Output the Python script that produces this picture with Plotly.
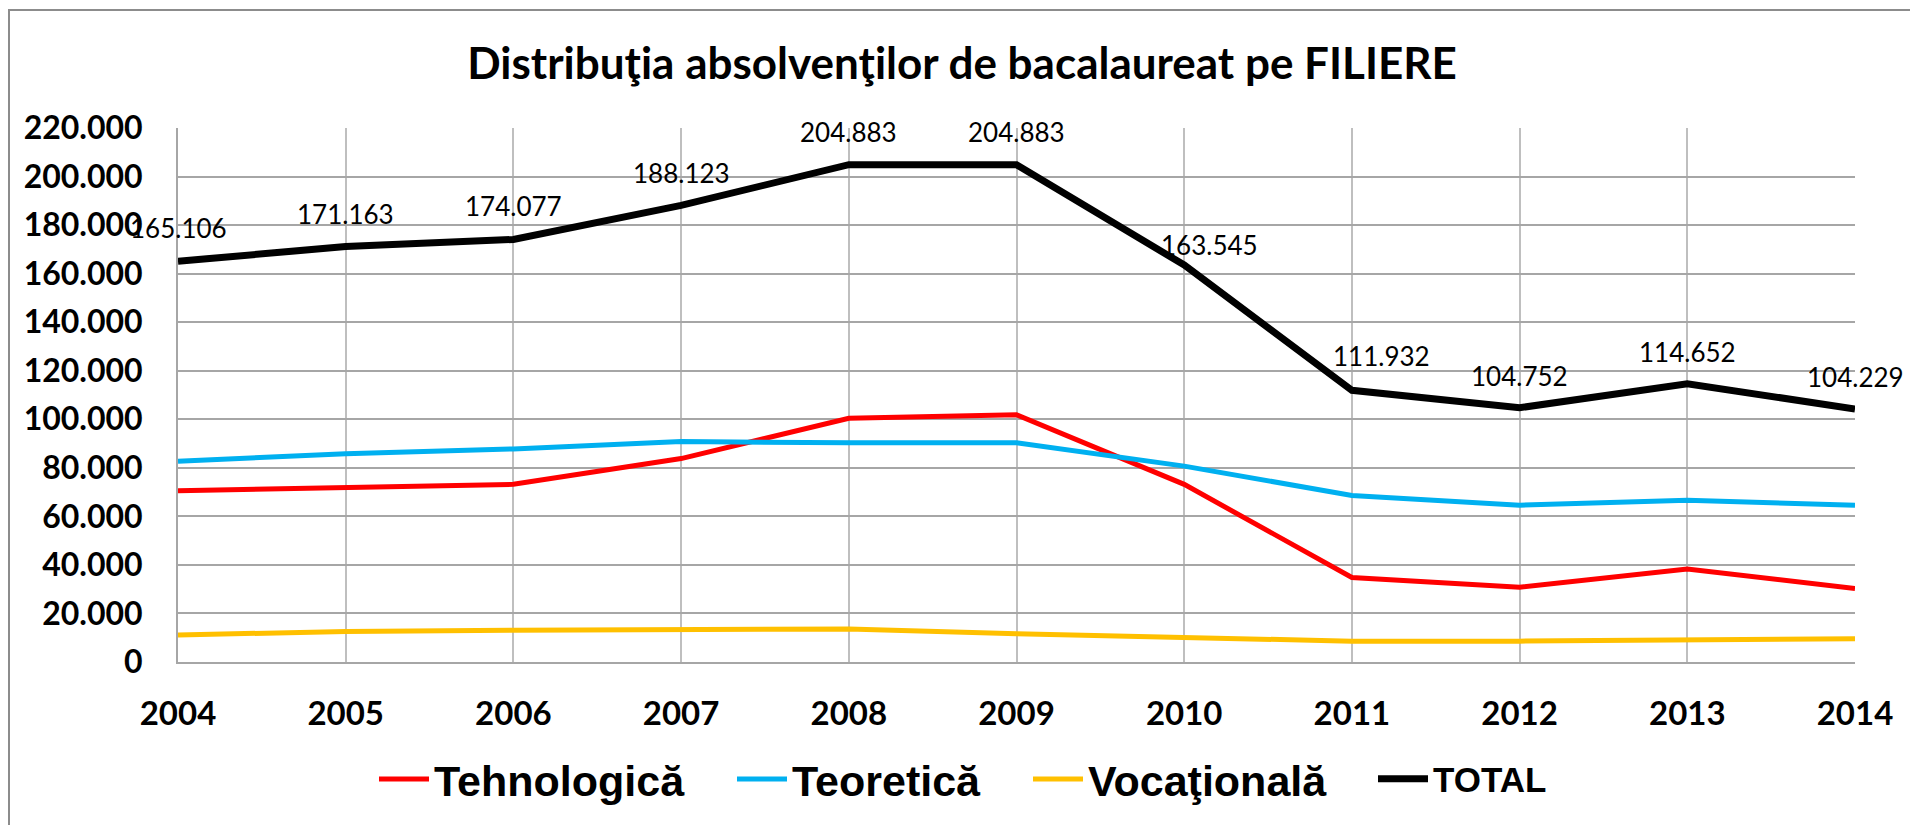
import plotly.graph_objects as go

years = [2004, 2005, 2006, 2007, 2008, 2009, 2010, 2011, 2012, 2013, 2014]
tehnologica = [70600, 72100, 73200, 83800, 100400, 101900, 73200, 34800, 30800, 38300, 30300]
teoretica = [82700, 85800, 87800, 90800, 90300, 90300, 80700, 68600, 64600, 66600, 64600]
vocationala = [11100, 12600, 13100, 13300, 13600, 11600, 10100, 8600, 8600, 9100, 9600]
total = [165106, 171163, 174077, 188123, 204883, 204883, 163545, 111932, 104752, 114652, 104229]

series_names = ["Tehnologică", "Teoretică", "Vocaţională", "TOTAL"]
title_text = "Distribuţia absolvenţilor de bacalaureat pe FILIERE"

# label offsets (pixels) for the TOTAL data labels
label_xshift = [0, 0, 0, 0, 0, 0, 25, 30, 0, 0, 0]
label_yshift = [33, 33, 33, 32, 33, 33, 20, 34, 32, 32, 32]

# the page body has an 8px margin, so the figure is 8px smaller than the window
OFF = 8
W, H = 1918 - OFF, 825 - OFF
L, T = 178 - OFF, 128 - OFF
pw, ph = 1677, 534
R = W - L - pw
B = H - T - ph

def px_x(x):
    return (x - L) / pw

def px_y(y):
    return (T + ph - y) / ph

fig = go.Figure()
colors = ["#FF0000", "#00B0F0", "#FFC000", "#000000"]
widths = [5, 5, 5, 7]
data = [tehnologica, teoretica, vocationala, total]
legends = ["legend", "legend2", "legend3", "legend4"]
for name, vals, c, w, lg in zip(series_names, data, colors, widths, legends):
    fig.add_trace(go.Scatter(x=years, y=vals, mode="lines", name=name,
                             line=dict(color=c, width=w), legend=lg))

for x, v, xs, ys in zip(years, total, label_xshift, label_yshift):
    fig.add_annotation(x=x, y=v, text=f"{v:,}".replace(",", "."), showarrow=False,
                       xshift=xs, yshift=ys,
                       font=dict(family="Lato", size=26, color="#000000"))

# outer border
fig.add_shape(type="rect", xref="paper", yref="paper",
              x0=px_x(1), x1=px_x(W + 30), y0=px_y(H + 30), y1=px_y(2),
              line=dict(color="#8c8c8c", width=2), fillcolor="rgba(0,0,0,0)", layer="below")

legend_font = dict(family="Liberation Sans, Arial", size=43, color="#000000", weight="bold")
leg_x = [379, 737, 1033, 1378]  # page x where each legend line starts
leg_y = px_y(779 - OFF)
common = dict(orientation="h", xanchor="left", yanchor="middle", bgcolor="rgba(0,0,0,0)",
              itemwidth=50, borderwidth=0, itemclick=False)
for i, lg in enumerate(legends):
    f = dict(legend_font)
    if i == 3:
        f["size"] = 35
    fig.update_layout(**{lg: dict(x=px_x(leg_x[i] - OFF - 5), y=leg_y, font=f, **common)})

fig.update_layout(
    width=W, height=H,
    margin=dict(l=L, r=R, t=T, b=B, pad=0, autoexpand=False),
    paper_bgcolor="white", plot_bgcolor="white",
    separators=",.",
    title=dict(text=title_text, x=0.4995, xref="container", xanchor="center",
               y=1 - 56 / H, yanchor="middle", yref="container",
               font=dict(family="Lato", size=44, color="#000000", weight="bold")),
    showlegend=True,
)
fig.update_xaxes(range=[2004, 2014], tickmode="array", tickvals=years,
                 ticktext=[str(y) for y in years],
                 showgrid=True, gridcolor="#bfbfbf", gridwidth=2,
                 showline=True, linecolor="#a6a6a6", linewidth=2,
                 zeroline=False, ticks="", ticklabelstandoff=21,
                 tickfont=dict(family="Lato", size=33, color="#000000", weight="bold"))
fig.update_yaxes(range=[0, 220000], dtick=20000, tickformat=",d",
                 showgrid=True, gridcolor="#a6a6a6", gridwidth=2,
                 showline=True, linecolor="#a6a6a6", linewidth=2,
                 zeroline=False, ticks="", ticklabelstandoff=27,
                 tickfont=dict(family="Lato", size=32, color="#000000", weight="bold"))

fig.write_html("out.html")
